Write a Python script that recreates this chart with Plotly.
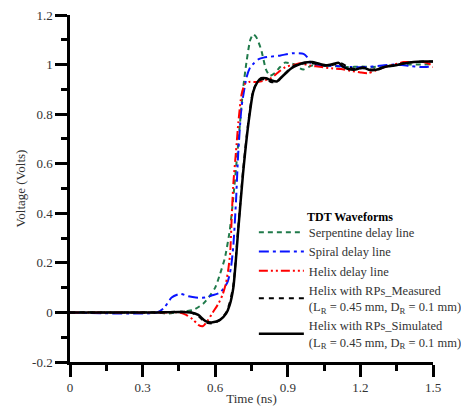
import plotly.graph_objects as go

# Serpentine delay line
t_serp = [0, 0.36, 0.40, 0.44, 0.48, 0.51, 0.55, 0.58, 0.60, 0.62, 0.64, 0.66, 0.675, 0.69, 0.70, 0.715, 0.73, 0.745, 0.757, 0.77, 0.79, 0.81, 0.826, 0.845, 0.868, 0.888, 0.91, 0.93, 0.95, 0.965, 0.985, 1.005, 1.05, 1.1, 1.15, 1.2, 1.25, 1.3, 1.35, 1.4, 1.45, 1.5]
v_serp = [0, 0, -0.005, 0.0, 0.005, 0.01, 0.035, 0.07, 0.10, 0.155, 0.22, 0.33, 0.465, 0.625, 0.735, 0.90, 1.015, 1.10, 1.122, 1.11, 1.06, 0.98, 0.955, 0.965, 0.99, 1.008, 1.005, 1.0, 0.985, 0.98, 0.99, 0.997, 0.995, 0.993, 0.99, 0.992, 0.99, 0.995, 0.998, 1.0, 1.0, 1.002]

# Spiral delay line
t_spir = [0, 0.36, 0.39, 0.42, 0.455, 0.49, 0.52, 0.56, 0.585, 0.62, 0.65, 0.665, 0.675, 0.686, 0.695, 0.709, 0.73, 0.745, 0.76, 0.78, 0.80, 0.83, 0.87, 0.92, 0.965, 0.98, 0.995, 1.02, 1.06, 1.1, 1.16, 1.22, 1.28, 1.34, 1.4, 1.45, 1.5]
v_spir = [0, 0, 0.02, 0.06, 0.075, 0.065, 0.06, 0.06, 0.068, 0.08, 0.12, 0.18, 0.27, 0.45, 0.64, 0.83, 0.95, 0.99, 1.005, 1.022, 1.028, 1.032, 1.037, 1.046, 1.043, 1.03, 1.005, 0.997, 0.996, 0.994, 0.99, 0.99, 0.995, 1.0, 0.995, 0.99, 0.993]

# Helix delay line
t_helix = [0, 0.40, 0.45, 0.48, 0.51, 0.53, 0.55, 0.571, 0.59, 0.613, 0.63, 0.645, 0.655, 0.662, 0.668, 0.675, 0.686, 0.696, 0.709, 0.723, 0.74, 0.77, 0.80, 0.83, 0.85, 0.87, 0.89, 0.91, 0.93, 0.95, 0.99, 1.04, 1.08, 1.12, 1.16, 1.2, 1.23, 1.26, 1.3, 1.34, 1.38, 1.42, 1.46, 1.49, 1.5]
v_helix = [0, 0, 0.0, -0.01, -0.03, -0.05, -0.055, -0.03, 0.0, 0.035, 0.07, 0.12, 0.18, 0.24, 0.38, 0.52, 0.65, 0.77, 0.88, 0.922, 0.93, 0.93, 0.935, 0.945, 0.96, 0.976, 0.99, 0.996, 1.0, 1.005, 0.996, 0.99, 0.985, 0.982, 0.975, 0.968, 0.965, 0.975, 0.99, 1.0, 1.01, 1.01, 1.01, 1.0, 0.99]

# Helix with RPs - measured
t_meas = [0, 0.35, 0.45, 0.5, 0.53, 0.56, 0.59, 0.62, 0.645, 0.66, 0.675, 0.695, 0.715, 0.737, 0.757, 0.775, 0.79, 0.81, 0.83, 0.855, 0.875, 0.895, 0.915, 0.94, 0.97, 1.0, 1.03, 1.06, 1.09, 1.12, 1.15, 1.18, 1.21, 1.24, 1.27, 1.3, 1.34, 1.38, 1.42, 1.46, 1.5]
v_meas = [0, 0, 0.003, 0.0, -0.015, -0.04, -0.045, -0.03, 0, 0.04, 0.11, 0.34, 0.57, 0.77, 0.895, 0.93, 0.94, 0.94, 0.93, 0.93, 0.95, 0.97, 0.99, 1.0, 1.005, 1.005, 1.0, 0.995, 1.0, 1.005, 0.99, 0.982, 0.985, 0.98, 0.982, 0.99, 0.997, 1.005, 1.01, 1.012, 1.012]

# Helix with RPs - simulated
t_sim = [0, 0.35, 0.45, 0.5, 0.53, 0.56, 0.59, 0.62, 0.645, 0.66, 0.675, 0.695, 0.715, 0.737, 0.757, 0.775, 0.79, 0.81, 0.83, 0.855, 0.875, 0.895, 0.915, 0.94, 0.97, 1.0, 1.03, 1.06, 1.09, 1.11, 1.13, 1.15, 1.18, 1.21, 1.24, 1.27, 1.3, 1.34, 1.38, 1.42, 1.46, 1.5]
v_sim = [0, 0, 0.002, 0.0, -0.01, -0.035, -0.04, -0.03, -0.005, 0.03, 0.10, 0.33, 0.56, 0.76, 0.89, 0.93, 0.945, 0.945, 0.937, 0.932, 0.95, 0.968, 0.985, 0.998, 1.008, 1.01, 1.003, 0.997, 1.003, 1.007, 0.99, 0.982, 0.98, 0.988, 0.978, 0.98, 0.99, 0.996, 1.004, 1.01, 1.012, 1.012]

x_ticks = [0, 0.3, 0.6, 0.9, 1.2, 1.5]
y_ticks = [-0.2, 0, 0.2, 0.4, 0.6, 0.8, 1, 1.2]

legend_title = "TDT Waveforms"
names = [
    "Serpentine delay line",
    "Spiral delay line",
    "Helix delay line",
    "Helix with RPs_Measured<br>(L<sub>R</sub> = 0.45 mm, D<sub>R</sub> = 0.1 mm)",
    "Helix with RPs_Simulated<br>(L<sub>R</sub> = 0.45 mm, D<sub>R</sub> = 0.1 mm)",
]

FONT = "Times New Roman, Liberation Serif, serif"
TXT = "#333333"

fig = go.Figure()
fig.add_trace(go.Scatter(x=t_serp, y=v_serp, mode="lines", name=names[0],
                         line=dict(color="#1f7a4a", width=2, dash="5px,4px", shape="spline", smoothing=0.6)))
fig.add_trace(go.Scatter(x=t_spir, y=v_spir, mode="lines", name=names[1],
                         line=dict(color="#0a14ff", width=2, dash="10px,4px,3px,4px", shape="spline", smoothing=0.6)))
fig.add_trace(go.Scatter(x=t_helix, y=v_helix, mode="lines", name=names[2],
                         line=dict(color="#ff0000", width=2, dash="9px,3px,2px,3px,2px,3px", shape="spline", smoothing=0.6)))
fig.add_trace(go.Scatter(x=t_meas, y=v_meas, mode="lines", name=names[3],
                         line=dict(color="black", width=2, dash="5px,5px", shape="spline", smoothing=0.6)))
fig.add_trace(go.Scatter(x=t_sim, y=v_sim, mode="lines", name=names[4],
                         line=dict(color="black", width=2.5, shape="spline", smoothing=0.6)))

# plot area spans 363 x 347 px; positions below are fractions of it
fig.add_annotation(
    text=f"<b>{legend_title}</b>", xref="paper", yref="paper",
    x=0.648, y=0.418, xanchor="left", yanchor="middle",
    showarrow=False, font=dict(family=FONT, size=12, color="black"),
)

fig.update_layout(
    width=469, height=400,
    margin=dict(l=62, r=44, t=7, b=46),
    paper_bgcolor="white", plot_bgcolor="white",
    font=dict(family=FONT, size=13, color=TXT),
    showlegend=True,
    legend=dict(
        x=0.5065, y=0.416, xanchor="left", yanchor="top",
        bgcolor="rgba(0,0,0,0)",
        font=dict(family=FONT, size=12.5, color=TXT),
        tracegroupgap=0, itemwidth=45,
    ),
)
fig.update_xaxes(
    range=[0, 1.5], tickmode="array", tickvals=x_ticks, ticktext=[str(v) for v in x_ticks],
    showline=True, linecolor="black", linewidth=2.5, ticks="outside", ticklen=12, tickwidth=2.5,
    tickcolor="black", showgrid=False, zeroline=False, automargin=False, ticklabeloverflow="allow",
    minor=dict(ticks="outside", ticklen=6, tickwidth=2.5, tickcolor="black", dtick=0.15, tick0=0, showgrid=False),
    title=dict(text="Time (ns)", font=dict(family=FONT, size=13, color=TXT), standoff=0),
    tickfont=dict(family=FONT, size=13, color=TXT),
)
fig.update_yaxes(
    range=[-0.2, 1.2], tickmode="array", tickvals=y_ticks, ticktext=[f"{v:g}" for v in y_ticks],
    showline=True, linecolor="black", linewidth=2.5, ticks="outside", ticklen=12, tickwidth=2.5,
    tickcolor="black", showgrid=False, zeroline=False, automargin=False, ticklabeloverflow="allow",
    minor=dict(ticks="outside", ticklen=6, tickwidth=2.5, tickcolor="black", dtick=0.1, tick0=0, showgrid=False),
    title=dict(text="Voltage (Volts)", font=dict(family=FONT, size=13, color=TXT), standoff=4),
    tickfont=dict(family=FONT, size=13, color=TXT),
)

fig.write_html("out.html")
